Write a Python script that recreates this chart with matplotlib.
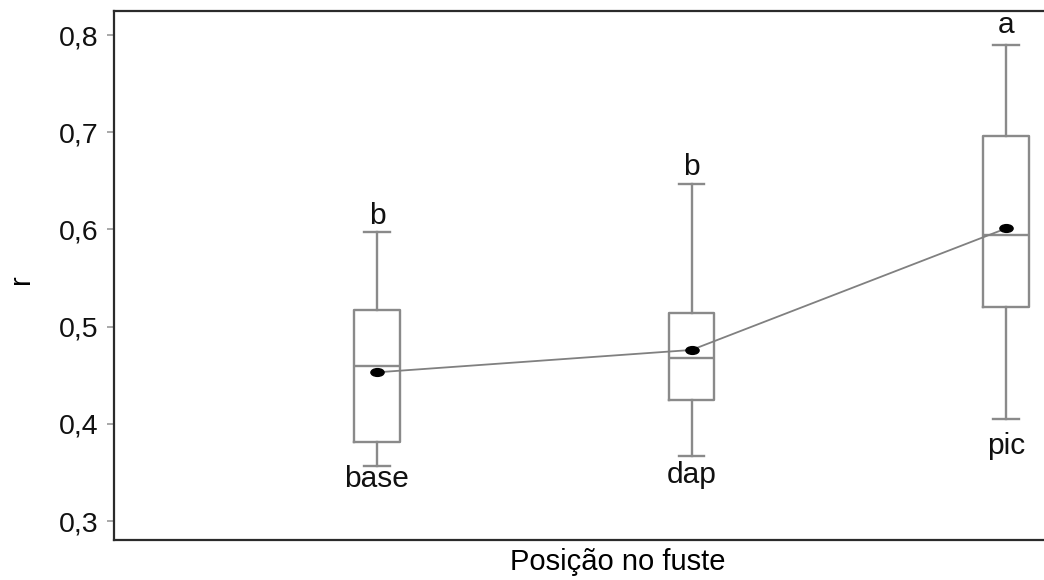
import matplotlib
matplotlib.use("Agg")
import matplotlib.pyplot as plt
from matplotlib.path import Path
from matplotlib.transforms import Affine2D

plt.rcParams['font.family'] = ['Liberation Sans', 'DejaVu Sans']

# ---- data ----
categories = ['base', 'dap', 'pic']
whisker_hi = [0.597, 0.647, 0.790]
q3_vals = [0.517, 0.514, 0.696]
medians = [0.4595, 0.468, 0.594]
means = [0.453, 0.476, 0.601]
q1_vals = [0.381, 0.425, 0.520]
whisker_lo = [0.357, 0.367, 0.405]
group_letters = ['b', 'b', 'a']
y_ticks = [0.3, 0.4, 0.5, 0.6, 0.7, 0.8]
y_tick_labels = ['0,3', '0,4', '0,5', '0,6', '0,7', '0,8']
x_title = 'Posição no fuste'
y_title = 'r'

# ---- styling ----
W, H, DPI = 1044, 580, 100
fig = plt.figure(figsize=(W / DPI, H / DPI), dpi=DPI)
ax_left_px, ax_right_px, ax_top_px, ax_bot_px = 114, 1122, 11, 540
ax = fig.add_axes([ax_left_px / W, 1 - ax_bot_px / H,
                   (ax_right_px - ax_left_px) / W, (ax_bot_px - ax_top_px) / H])

positions = list(range(1, len(categories) + 1))
stats = []
for i, c in enumerate(categories):
    stats.append(dict(label=c, med=medians[i], q1=q1_vals[i], q3=q3_vals[i],
                      whislo=whisker_lo[i], whishi=whisker_hi[i],
                      mean=means[i], fliers=[]))

grey = '#8a8a8a'
lw = 1.7
ax.bxp(stats, positions=positions, widths=0.146, showfliers=False,
       showmeans=False, patch_artist=False,
       boxprops=dict(color=grey, linewidth=lw),
       whiskerprops=dict(color=grey, linewidth=lw),
       capprops=dict(color=grey, linewidth=lw),
       medianprops=dict(color=grey, linewidth=lw),
       capwidths=0.08)

# mean connecting line and elliptical mean dots
ax.plot(positions, means, color='#808080', linewidth=1.3, zorder=3)
ell = Path.unit_circle().transformed(Affine2D().scale(1.7, 1.0))
ax.plot(positions, means, linestyle='none', marker=ell, markersize=9.5,
        color='black', zorder=4)

# letters above, category names below
top_off_px = [8, 9, 12]
bot_off_px = [21, 27, 35]
for i, p in enumerate(positions):
    ax.annotate(group_letters[i], (p, whisker_hi[i]),
                xytext=(0, top_off_px[i] * 0.72), textcoords='offset points',
                ha='center', va='baseline', fontsize=21.5, color='#111111')
    ax.annotate(categories[i], (p, whisker_lo[i]),
                xytext=(0, -bot_off_px[i] * 0.72), textcoords='offset points',
                ha='center', va='baseline', fontsize=21.5, color='#111111')

# axes limits: x positions at px 377, 691, 1006
px_per_unit = 314.5
ax.set_xlim(1 - (377 - ax_left_px) / px_per_unit, 1 + (ax_right_px - 377) / px_per_unit)
ax.set_ylim(0.2805, 0.8247)
ax.set_xticks([])
ax.set_yticks(y_ticks)
ax.set_yticklabels(y_tick_labels, fontsize=20.5, color='#111111')
ax.tick_params(axis='y', length=5, width=1.2, color='#999999', pad=6)

for s in ['left', 'top', 'bottom']:
    ax.spines[s].set_color('#2b2b2b')
    ax.spines[s].set_linewidth(1.6)
ax.spines['right'].set_visible(False)

ax.set_xlabel(x_title, fontsize=21, labelpad=6, color='black')
fig.text(21 / W, 1 - 279 / H, y_title, rotation=90, ha='center', va='center',
         fontsize=21, color='black')

fig.savefig('out.png', dpi=DPI)
